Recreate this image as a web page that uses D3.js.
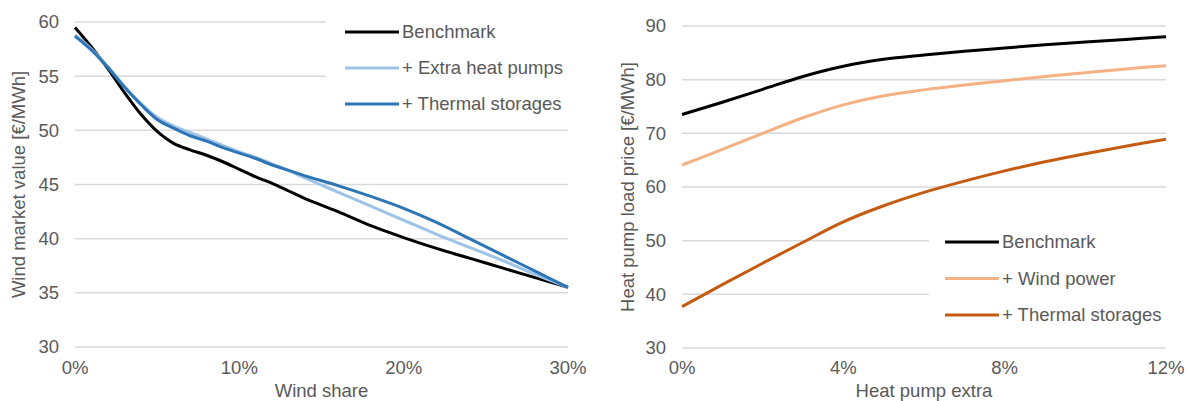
<!DOCTYPE html>
<html>
<head>
<meta charset="utf-8">
<script src="https://cdn.jsdelivr.net/npm/d3@7"></script>
<style>
  body { margin: 0; background: #fff; }
  svg text { font-family: "Liberation Sans", Arial, sans-serif; fill: #595959; }
</style>
</head>
<body>
<script>
// ---- data: left panel (wind market value vs wind share) ----
var windShare = [0, 1, 2, 3, 4, 5, 6, 7, 8, 9, 10, 11, 12, 13, 14, 16, 18, 20, 22, 24, 26, 28, 30];
var windBenchmark = [59.5, 57.7, 55.7, 53.5, 51.5, 49.9, 48.8, 48.2, 47.7, 47.1, 46.4, 45.7, 45.1, 44.4, 43.7, 42.5, 41.2, 40.1, 39.1, 38.2, 37.3, 36.4, 35.5];
var windExtraHP   = [58.8, 57.5, 55.9, 54.1, 52.5, 51.2, 50.4, 49.8, 49.2, 48.6, 48.0, 47.5, 46.9, 46.3, 45.6, 44.3, 43.0, 41.7, 40.4, 39.2, 38.0, 36.7, 35.5];
var windThermal   = [58.7, 57.4, 55.8, 54.0, 52.4, 51.0, 50.2, 49.5, 49.0, 48.4, 47.9, 47.4, 46.8, 46.3, 45.8, 44.9, 43.9, 42.8, 41.5, 40.0, 38.5, 37.0, 35.5];
var windXTicks = [0, 10, 20, 30];
var windYTicks = [30, 35, 40, 45, 50, 55, 60];

// ---- data: right panel (heat pump load price vs heat pump extra) ----
var hpExtra = [0, 1, 2, 3, 4, 5, 6, 7, 8, 9, 10, 11, 12];
var hpBenchmark = [73.5, 75.8, 78.2, 80.6, 82.5, 83.8, 84.6, 85.3, 85.9, 86.5, 87.0, 87.5, 88.0];
var hpWind      = [64.1, 67.0, 70.0, 72.9, 75.3, 77.0, 78.1, 79.0, 79.8, 80.6, 81.3, 82.0, 82.6];
var hpThermal   = [37.7, 41.8, 45.8, 49.7, 53.5, 56.5, 59.0, 61.1, 63.0, 64.7, 66.2, 67.6, 68.9];
var hpXTicks = [0, 4, 8, 12];
var hpYTicks = [30, 40, 50, 60, 70, 80, 90];

var svg = d3.select("body").append("svg")
    .attr("width", 1187).attr("height", 401);

var FS = 18.5;

function panel(opt) {
    var x = d3.scaleLinear().domain(opt.xDomain).range([opt.left, opt.right]);
    var y = d3.scaleLinear().domain(opt.yDomain).range([opt.bottom, opt.top]);
    var g = svg.append("g");

    // gridlines
    g.append("g").selectAll("line").data(opt.yTicks).enter().append("line")
        .attr("x1", opt.left).attr("x2", opt.right)
        .attr("y1", d => y(d)).attr("y2", d => y(d))
        .attr("stroke", "#d9d9d9").attr("stroke-width", 1.5);

    // legend background hides gridlines behind it
    g.append("rect")
        .attr("x", opt.legend.box[0]).attr("y", opt.legend.box[1])
        .attr("width", opt.legend.box[2]).attr("height", opt.legend.box[3])
        .attr("fill", "#fff");

    // y tick labels
    g.append("g").selectAll("text").data(opt.yTicks).enter().append("text")
        .attr("x", opt.left - 16).attr("y", d => y(d)).attr("dy", "0.35em")
        .attr("text-anchor", "end").attr("font-size", FS)
        .text(d => d);

    // x tick labels
    g.append("g").selectAll("text").data(opt.xTicks).enter().append("text")
        .attr("x", d => x(d)).attr("y", 368).attr("dy", "0.35em")
        .attr("text-anchor", "middle").attr("font-size", FS)
        .text(d => d + "%");

    // axis titles
    g.append("text").text(opt.xTitle)
        .attr("x", (opt.left + opt.right) / 2).attr("y", 391).attr("dy", "0.35em")
        .attr("text-anchor", "middle").attr("font-size", FS);
    g.append("text").text(opt.yTitle)
        .attr("transform", "translate(" + opt.yTitleX + "," + (opt.top + opt.bottom) / 2 + ") rotate(-90)")
        .attr("dy", "0.35em")
        .attr("text-anchor", "middle").attr("font-size", FS);

    var line = d3.line()
        .x(d => x(d[0])).y(d => y(d[1]))
        .curve(d3.curveCatmullRom.alpha(0.5));

    opt.series.forEach(function(s) {
        g.append("path")
            .datum(opt.xs.map((v, i) => [v, s.values[i]]))
            .attr("fill", "none").attr("stroke", s.color)
            .attr("stroke-width", 3).attr("stroke-linejoin", "round")
            .attr("d", line);
    });

    // legend
    var lg = g.append("g");
    opt.series.forEach(function(s, i) {
        var ly = opt.legend.y0 + i * opt.legend.dy;
        lg.append("line")
            .attr("x1", opt.legend.x).attr("x2", opt.legend.x + 54)
            .attr("y1", ly).attr("y2", ly)
            .attr("stroke", s.color).attr("stroke-width", 3);
        lg.append("text")
            .attr("x", opt.legend.x + 57).attr("y", ly).attr("dy", "0.35em")
            .attr("font-size", FS)
            .text(s.name);
    });
}

panel({
    left: 75, right: 568, top: 22, bottom: 347,
    xDomain: [0, 30], yDomain: [30, 60],
    xTicks: windXTicks, yTicks: windYTicks,
    xTitle: "Wind share", yTitle: "Wind market value [€/MWh]", yTitleX: 19,
    xs: windShare,
    series: [
        {name: "Benchmark", values: windBenchmark, color: "#000000"},
        {name: "+ Extra heat pumps", values: windExtraHP, color: "#9dc3e6"},
        {name: "+ Thermal storages", values: windThermal, color: "#2e75b6"}
    ],
    legend: {x: 345, y0: 32, dy: 36, box: [326, 8, 260, 114]}
});

panel({
    left: 682, right: 1166, top: 26, bottom: 348,
    xDomain: [0, 12], yDomain: [30, 90],
    xTicks: hpXTicks, yTicks: hpYTicks,
    xTitle: "Heat pump extra", yTitle: "Heat pump load price [€/MWh]", yTitleX: 628,
    xs: hpExtra,
    series: [
        {name: "Benchmark", values: hpBenchmark, color: "#000000"},
        {name: "+ Wind power", values: hpWind, color: "#f4b183"},
        {name: "+ Thermal storages", values: hpThermal, color: "#c55a11"}
    ],
    legend: {x: 945, y0: 242, dy: 36.5, box: [929, 222, 258, 112]}
});
</script>
</body>
</html>
